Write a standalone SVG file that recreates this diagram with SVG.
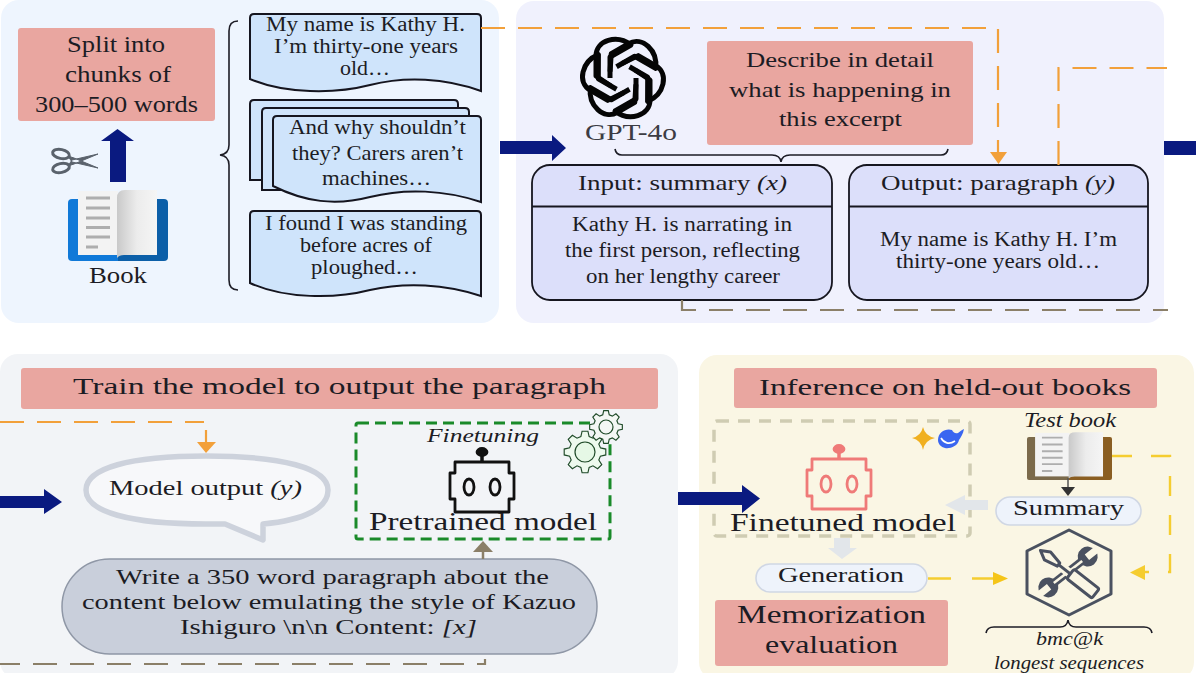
<svg xmlns="http://www.w3.org/2000/svg" width="1196" height="673" viewBox="0 0 1196 673">
<style>
text{font-family:"Liberation Serif","Times New Roman",serif;fill:#1c1c24;font-size:22px}
.d{font-size:20px}
.pink{fill:#e9a6a0}
.s{stroke-width:2;stroke:#15151f;fill:#cfe4fb}
.t{fill:#dcdffa;stroke:#16161f;stroke-width:1.8}
.o{fill:none;stroke:#f2a03a;stroke-width:2.2;stroke-dasharray:24 13}
.b{fill:none;stroke:#8b7f68;stroke-width:2.2;stroke-dasharray:24 13}
.y{fill:none;stroke:#f5cd30;stroke-width:2.4;stroke-dasharray:20 19}
.nv{fill:#0a1a80}
.br{fill:none;stroke:#1d1d26;stroke-width:1.6}
.i{font-style:italic}
.pill{fill:#eef3fb;stroke:#d0d7e4;stroke-width:1.6}
</style>
<defs>
<linearGradient id="pg" x1="0" x2="1"><stop offset="0" stop-color="#c9c9c9"/><stop offset="0.5" stop-color="#ececec"/><stop offset="1" stop-color="#f5f5f5"/></linearGradient>
<g id="pages">
<rect x="78" y="191" width="40" height="64" fill="#f3f3f3"/>
<path d="M86 198H110M86 208H110M86 218H110M86 227.500H110M86 237H110M86 247H98" stroke="#aeaeae" stroke-width="2.800"/>
<path d="M117 198Q117 190 125 190H157V255H124Q119 255 117 258Z" fill="url(#pg)"/>
</g>
<g id="robot" fill="none" stroke="currentColor" stroke-width="2.800" stroke-linejoin="round">
<path d="M-27-25H27V-14H32V12H27V25H-27V12H-32V-14H-27Z"/>
<path d="M0-25V-34" stroke-width="3.500"/><ellipse cx="0" cy="-35" rx="5" ry="3.500" fill="currentColor"/>
<ellipse cx="-13" cy="0" rx="5" ry="8"/><ellipse cx="13" cy="0" rx="5" ry="8"/>
</g>
<path id="gear" d="M7.34-1.97L9.9-1.39 9.9 1.39 7.34 1.97 6.58 3.8 7.98 6.02 6.02 7.98 3.8 6.58 1.97 7.34 1.39 9.9-1.39 9.9-1.97 7.34-3.8 6.58-6.02 7.98-7.98 6.02-6.58 3.8-7.34 1.97-9.9 1.39-9.9-1.39-7.34-1.97-6.58-3.8-7.98-6.02-6.02-7.98-3.8-6.58-1.97-7.34-1.39-9.9 1.39-9.9 1.97-7.34 3.8-6.58 6.02-7.98 7.98-6.02 6.58-3.8Z"/>
<path id="lobe" d="M-12 8L-27-2V-22C-27-38-6-44 8-33L-13-21V0" fill="none" stroke="#050505" stroke-width="5" stroke-linejoin="round"/>
</defs>

<g id="panels">
<rect x="1" y="0" width="498" height="323" rx="18" fill="#eef5fe"/>
<rect x="516" y="1" width="648" height="322" rx="18" fill="#f0f1fd"/>
<rect x="0" y="354" width="678" height="325" rx="18" fill="#f2f4f7"/>
<rect x="699" y="355" width="495" height="325" rx="18" fill="#faf6e4"/>
</g>

<g id="split-box"><rect class="pink" x="18" y="28" width="197" height="93" rx="3"/>
<text x="67" y="52" textLength="98" lengthAdjust="spacingAndGlyphs" style="font-size:24px">Split into</text>
<text x="65" y="82" textLength="106" lengthAdjust="spacingAndGlyphs" style="font-size:24px">chunks of</text>
<text x="35" y="112" textLength="163" lengthAdjust="spacingAndGlyphs" style="font-size:24px">300–500 words</text></g>

<g id="scissors" fill="none" stroke="#5a626c" stroke-width="3">
<ellipse cx="61" cy="154" rx="8.500" ry="4.500" transform="rotate(12 61 154)"/>
<ellipse cx="61" cy="168" rx="8.500" ry="4.500" transform="rotate(-12 61 168)"/>
<path d="M68 156L74 158 98 168 72 162ZM68 166L74 164 98 154 72 160Z" fill="#5a626c" stroke-width="1"/>
</g>

<g id="book">
<path d="M68 203Q68 199 72 199H118V261H72Q68 261 68 257Z" fill="#1079d8"/>
<path d="M168 203Q168 199 164 199H118V261H164Q168 261 168 257Z" fill="#0c5fa8"/>
<use href="#pages"/>
<text x="89" y="283" textLength="58" lengthAdjust="spacingAndGlyphs" style="font-size:24px">Book</text>
</g>

<g id="chunk-brace"><path class="br" d="M238 21Q229 21 229 31V145Q229 154 220 155Q229 156 229 165V280Q229 290 238 290"/></g>

<g id="chunk-1"><path class="s" d="M250 79V18Q250 14 254 14H477Q481 14 481 18V91C445 78 405 76 370 85 335 94 285 94 250 79Z"/>
<text class="d" x="266" y="31" textLength="199" lengthAdjust="spacingAndGlyphs">My name is Kathy H.</text>
<text class="d" x="274" y="53" textLength="184" lengthAdjust="spacingAndGlyphs">I’m thirty-one years</text>
<text class="d" x="340" y="75" textLength="50" lengthAdjust="spacingAndGlyphs">old…</text></g>

<g id="chunk-2">
<path class="s" d="M250 173V104Q250 100 254 100H454Q458 100 458 104V180H250Z"/>
<path class="s" d="M262 182V112Q262 108 266 108H465Q469 108 469 112V190H262Z"/>
<path class="s" d="M273 186V120Q273 116 277 116H477Q481 116 481 120V202C445 190 405 188 370 197 335 206 305 202 273 186Z"/>
<text x="289" y="134" textLength="177" lengthAdjust="spacingAndGlyphs">And why shouldn’t</text>
<text x="292" y="160" textLength="171" lengthAdjust="spacingAndGlyphs">they? Carers aren’t</text>
<text x="322" y="185" textLength="109" lengthAdjust="spacingAndGlyphs">machines…</text></g>

<g id="chunk-3"><path class="s" d="M250 283V215Q250 211 254 211H477Q481 211 481 215V296C445 284 405 282 370 290 335 299 285 299 250 283Z"/>
<text class="d" x="265" y="230" textLength="202" lengthAdjust="spacingAndGlyphs">I found I was standing</text>
<text class="d" x="300" y="252" textLength="132" lengthAdjust="spacingAndGlyphs">before acres of</text>
<text class="d" x="311" y="274" textLength="107" lengthAdjust="spacingAndGlyphs">ploughed…</text></g>

<g id="gpt">
<g transform="translate(623 78)">
<use href="#lobe"/><use href="#lobe" transform="rotate(60)"/><use href="#lobe" transform="rotate(120)"/><use href="#lobe" transform="rotate(180)"/><use href="#lobe" transform="rotate(240)"/><use href="#lobe" transform="rotate(300)"/>
</g>
<text x="585" y="140" textLength="92" lengthAdjust="spacingAndGlyphs" style="font-size:24px;fill:#3c3c44">GPT-4o</text></g>

<g id="describe-box"><rect class="pink" x="707" y="41" width="266" height="104" rx="3"/>
<text x="746" y="67" textLength="188" lengthAdjust="spacingAndGlyphs">Describe in detail</text>
<text x="729" y="97" textLength="222" lengthAdjust="spacingAndGlyphs">what is happening in</text>
<text x="779" y="126" textLength="123" lengthAdjust="spacingAndGlyphs">this excerpt</text></g>

<g id="gpt-brace"><path class="br" d="M615 149Q616 155 622 155H772Q780 155 781 162Q782 155 790 155H941Q947 155 948 149"/></g>

<g id="input-table"><rect class="t" x="532" y="165" width="300" height="135" rx="18"/><path class="t" d="M532 206.500H832"/>
<text x="578" y="190" textLength="209" lengthAdjust="spacingAndGlyphs">Input: summary <tspan class="i">(x)</tspan></text>
<text x="572" y="231" textLength="220" lengthAdjust="spacingAndGlyphs" style="font-size:20px">Kathy H. is narrating in</text>
<text x="565" y="257" textLength="235" lengthAdjust="spacingAndGlyphs" style="font-size:20px">the first person, reflecting</text>
<text x="586" y="283" textLength="194" lengthAdjust="spacingAndGlyphs" style="font-size:20px">on her lengthy career</text></g>

<g id="output-table"><rect class="t" x="849" y="165" width="299" height="135" rx="18"/><path class="t" d="M849 206.500H1148"/>
<text x="881" y="190" textLength="234" lengthAdjust="spacingAndGlyphs">Output: paragraph <tspan class="i">(y)</tspan></text>
<text x="880" y="246" textLength="237" lengthAdjust="spacingAndGlyphs" style="font-size:20px">My name is Kathy H. I’m</text>
<text x="896" y="268" textLength="204" lengthAdjust="spacingAndGlyphs" style="font-size:20px">thirty-one years old…</text></g>

<g id="train-title"><rect class="pink" x="21" y="368" width="637" height="41" rx="3"/>
<text x="73" y="394" textLength="533" lengthAdjust="spacingAndGlyphs" style="font-size:24px">Train the model to output the paragraph</text></g>

<g id="model-output"><path d="M206 456C130 456 86 468 86 490 86 512 130 524 206 524H225L263 540V524C305 520 328 508 328 490 328 468 282 456 206 456Z" fill="#f7f8fa" stroke="#cdd2dc" stroke-width="5.500" stroke-linejoin="round"/>
<text x="109" y="495" textLength="193" lengthAdjust="spacingAndGlyphs">Model output <tspan class="i">(y)</tspan></text></g>

<g id="pretrained-model"><rect x="356" y="423" width="254" height="116" rx="2" fill="none" stroke="#1a8a2a" stroke-width="3" stroke-dasharray="11 6"/>
<text class="i" x="427" y="442" textLength="112" lengthAdjust="spacingAndGlyphs" style="font-size:19px">Finetuning</text>
<use href="#robot" x="482" y="487" style="color:#111"/>
<text x="369" y="530" textLength="228" lengthAdjust="spacingAndGlyphs" style="font-size:25px">Pretrained model</text>
<g fill="#eefaee" stroke="#1f4a28" stroke-width="0.55"><use href="#gear" transform="translate(585 452) scale(2.1)"/></g>
<circle cx="585" cy="452" r="10" fill="#e6f8e6" stroke="#1f4a28" stroke-width="1.200"/>
<g fill="#f4f7f4" stroke="#1f4a28" stroke-width="0.7"><use href="#gear" transform="translate(606 427) scale(1.65)"/></g>
<circle cx="606" cy="427" r="7" fill="#f4f7f4" stroke="#1f4a28" stroke-width="1.200"/></g>

<g id="prompt"><rect x="62" y="559" width="535" height="95" rx="47.500" fill="#c9cfdb" stroke="#8f97a6" stroke-width="1.500"/>
<text x="116" y="584" textLength="433" lengthAdjust="spacingAndGlyphs">Write a 350 word paragraph about the</text>
<text x="82" y="609" textLength="494" lengthAdjust="spacingAndGlyphs">content below emulating the style of Kazuo</text>
<text x="180" y="634" textLength="297" lengthAdjust="spacingAndGlyphs">Ishiguro \n\n Content: <tspan class="i">[x]</tspan></text></g>

<g id="inference-title"><rect class="pink" x="734" y="368" width="423" height="40" rx="3"/>
<text x="759" y="395" textLength="372" lengthAdjust="spacingAndGlyphs" style="font-size:24px">Inference on held-out books</text></g>

<g id="finetuned-model"><rect x="714" y="421" width="256" height="115" rx="3" fill="none" stroke="#cfccb2" stroke-width="3.500" stroke-dasharray="12 9"/>
<use href="#robot" x="839" y="484" style="color:#ef7a78"/>
<text x="730" y="531" textLength="226" lengthAdjust="spacingAndGlyphs" style="font-size:25px">Finetuned model</text>
<path d="M923 427Q925 436 935 438Q925 440 923 450Q921 440 912 438Q921 436 923 427Z" fill="#f0b020"/>
<path d="M938 440C938 432 946 428 952 430 953 432 955 434 958 433 960 432 961 430 964 429 963 434 961 437 959 440 958 446 950 449 945 448 941 447 938 444 938 440Z" fill="#3a66f0"/>
<path d="M941 438C944 443 949 445 955 441" fill="none" stroke="#fff" stroke-width="1.600"/></g>

<g id="test-book">
<text class="i" x="1024" y="427" textLength="92" lengthAdjust="spacingAndGlyphs" style="font-size:20px">Test book</text>
<path d="M1027 439Q1027 437 1029 437H1069V480H1029Q1027 480 1027 478Z" fill="#7b6a4b"/>
<path d="M1112 439Q1112 437 1110 437H1069V480H1110Q1112 480 1112 478Z" fill="#8a5e22"/>
<use href="#pages" transform="translate(968 303) scale(0.86 0.68)"/></g>

<g id="summary"><rect class="pill" x="996" y="497" width="145" height="28" rx="14"/>
<text x="1013" y="515" textLength="111" lengthAdjust="spacingAndGlyphs" style="font-size:21px">Summary</text></g>

<g id="generation"><rect class="pill" x="756" y="564" width="171" height="28" rx="14"/>
<text x="778" y="582" textLength="126" lengthAdjust="spacingAndGlyphs" style="font-size:20px">Generation</text></g>

<g id="memorization"><rect class="pink" x="715" y="600" width="233" height="66" rx="3"/>
<text x="737" y="623" textLength="189" lengthAdjust="spacingAndGlyphs" style="font-size:26px">Memorization</text>
<text x="765" y="653" textLength="133" lengthAdjust="spacingAndGlyphs" style="font-size:26px">evaluation</text></g>

<g id="tools"><path d="M1069 530L1111 551V594L1069 615 1027 594V551Z" fill="none" stroke="#4a5160" stroke-width="3" stroke-linejoin="round"/>
<g transform="translate(1068 572) rotate(-38)">
<path d="M-20 0H20" stroke="#4a5160" stroke-width="8"/>
<circle cx="-25" cy="0" r="10" fill="#4a5160"/><circle cx="25" cy="0" r="10" fill="#4a5160"/>
<path d="M-38-3.500H-24V3.500H-38ZM38-3.500H24V3.500H38Z" fill="#faf6e4"/>
<path d="M-18 0H18" stroke="#faf6e4" stroke-width="2.600"/>
</g>
<g transform="translate(1068 572) rotate(38)" stroke="#4a5160" stroke-width="3" stroke-linejoin="round">
<path d="M-9 0H6" stroke="#faf6e4" stroke-width="9"/>
<path d="M-35 0L-26-5-12-2V2L-26 5Z" fill="#faf6e4"/>
<path d="M-12 0H3"/>
<rect x="3" y="-6" width="32" height="12" rx="2" fill="#faf6e4"/>
</g></g>

<g id="tools-brace"><path class="br" d="M986 633Q987 627 994 627H1060Q1067 627 1068 620Q1069 627 1076 627H1144Q1151 627 1152 633"/>
<text class="i" x="1036" y="645" textLength="67" lengthAdjust="spacingAndGlyphs" style="font-size:18px">bmc@k</text>
<text class="i" x="994" y="669" textLength="150" lengthAdjust="spacingAndGlyphs" style="font-size:18px">longest sequences</text></g>

<g id="connectors">
<path class="nv" d="M110 182V141H101L117.500 129 134 141H126V182Z"/>
<path class="nv" d="M500 141H552V135L566 148 552 161V154H500Z"/>
<path class="nv" d="M1164 141H1196V155H1164Z"/>
<path class="nv" d="M0 496H44V489L62 502 44 514V508H0Z"/>
<path class="nv" d="M678 492H742V485L760 498.500 742 513V505H678Z"/>
<path class="o" d="M481 28H998V152"/><path d="M990 152H1007L998.500 164Z" fill="#f2a03a"/>
<path class="o" d="M1058.500 165V68H1167"/>
<path class="o" d="M0 422H204"/>
<path d="M206 430V443" stroke="#f2a03a" stroke-width="2.200"/><path d="M197 442H216L206 453Z" fill="#f2a03a"/>
<path class="b" d="M682 300V310H1168"/>
<path class="b" d="M0 664H485V659" style="stroke-dashoffset:4"/>
<path d="M483 551V559" stroke="#8b7f68" stroke-width="2.500"/><path d="M473 552H493L483 541Z" fill="#8b7f68"/>
<path d="M988 500V510H965V515L945 505 965 495V500Z" fill="#e2e6ea"/>
<path d="M834 538H850V548H857L842 559 828 548H834Z" fill="#e2e6ea"/>
<path d="M1068 478V488" stroke="#555" stroke-width="1.500"/><path d="M1061 487H1075L1068 496Z" fill="#333"/>
<path d="M928 578.500H951M972 578.500H993" fill="none" stroke="#f5cd30" stroke-width="2.400"/><path d="M993 572V585L1008 578.500Z" fill="#f5c518"/>
<path class="y" d="M1112 456H1170V572H1144"/><path d="M1145 565V580L1130 572.500Z" fill="#f5cd30"/>
</g>
</svg>
